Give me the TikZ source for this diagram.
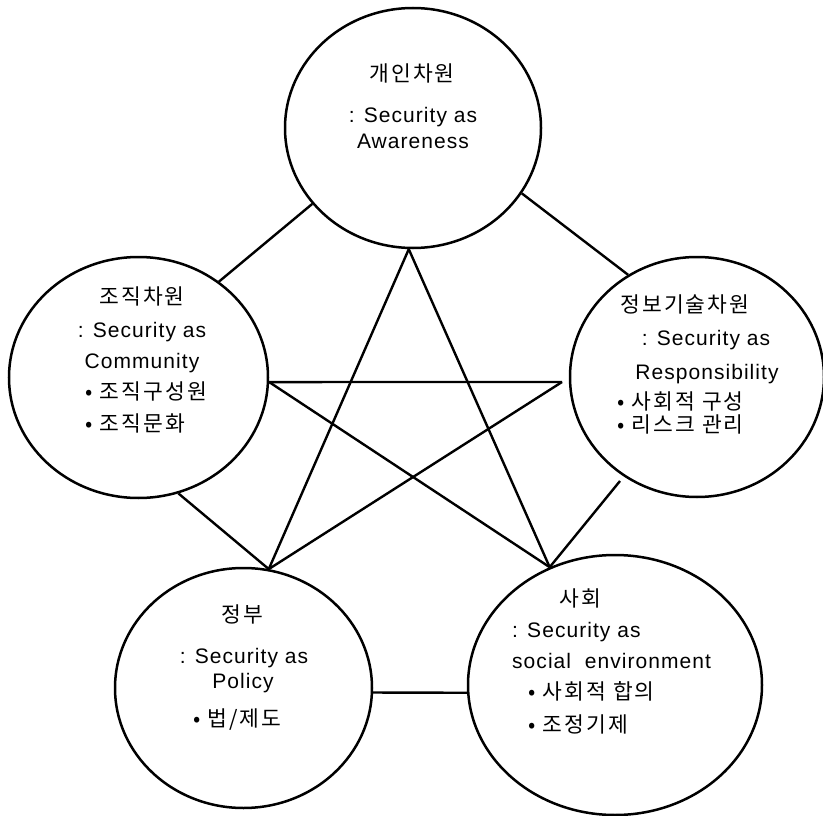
\documentclass[tikz,border=0pt]{standalone}
\usepackage{fontspec}
\setmainfont{Liberation Sans}[LetterSpace=5]
\newfontfamily\kr{Noto Sans CJK KR}[LetterSpace=10]
\usetikzlibrary{shapes.geometric}

\tikzset{
  dim/.style={draw, ellipse, line width=2.5pt, inner sep=0pt},
  link/.style={line width=2.4pt},
  ko/.style={font=\kr\fontsize{21.5}{25}\selectfont, inner sep=0pt, anchor=base},
  en/.style={font=\fontsize{21}{25}\selectfont, inner sep=0pt, anchor=base},
}

\begin{document}
\begin{tikzpicture}[x=1pt, y=-1pt]
  \useasboundingbox (0,0) rectangle (823,816);

  % the five dimensions
  \node[dim, minimum width=256pt, minimum height=240pt] (indiv) at (413,128) {};
  \node[dim, minimum width=259pt, minimum height=241pt] (org) at (138.5,377.5) {};
  \node[dim, minimum width=254pt, minimum height=240pt] (it) at (697,377) {};
  \node[dim, minimum width=257pt, minimum height=240pt] (gov) at (243.5,688) {};
  \node[dim, minimum width=294pt, minimum height=260pt] (soc) at (615,685) {};

  % texts
  \node[ko] (indivA) at (412,82) {개인차원};
  \node[en] (indivB) at (413,123) {: Security as};
  \node[en] (indivC) at (413,148) {Awareness};

  \node[ko] (orgA) at (142,304) {조직차원};
  \node[en] (orgB) at (142,337) {: Security as};
  \node[en] (orgC) at (142,368) {Community};
  \node[ko, anchor=base west] (orgD) at (85,399) {• 조직구성원};
  \node[ko, anchor=base west] (orgE) at (85,431) {• 조직문화};

  \node[ko, anchor=base west] (itA) at (620,312) {정보기술차원};
  \node[en] (itB) at (706,345) {: Security as};
  \node[en] (itC) at (707,379) {Responsibility};
  \node[ko, anchor=base west] (itD) at (617,409) {• 사회적 구성};
  \node[ko, anchor=base west] (itE) at (617,432) {• 리스크 관리};

  \node[ko] (govA) at (242,622) {정부};
  \node[en] (govB) at (244,663) {: Security as};
  \node[en] (govC) at (243,688) {Policy};
  \node[ko, anchor=base west] (govD) at (193,726) {• 법/제도};

  \node[ko] (socA) at (580,606) {사회};
  \node[en, anchor=base west] (socB) at (512,637) {: Security as};
  \node[en, anchor=base west] (socC) at (512,668) {social \ environment};
  \node[ko, anchor=base west] (socD) at (528,699) {• 사회적 합의};
  \node[ko, anchor=base west] (socE) at (528,732) {• 조정기제};

  % loose ends near the IT circle
  \coordinate (itL) at (562,382);
  \coordinate (itS) at (620,481);

  % star
  \draw[link] (indiv.268) -- (gov.78.5);
  \draw[link] (indiv.268) -- (soc.119);
  \draw[link] (org.-2) -- (itL);
  \draw[link] (org.-2) -- (soc.119);
  \draw[link] (itL) -- (gov.78.5);

  % outer ring
  \draw[link] (org.50) -- (indiv.217.6);
  \draw[link] (indiv.-31.8) -- (it.124.6);
  \draw[link] (org.-71) -- (gov.78.5);
  \draw[link] (itS) -- (soc.119);
  \draw[link] (gov.-2.2) -- (soc.183.1);
\end{tikzpicture}
\end{document}
